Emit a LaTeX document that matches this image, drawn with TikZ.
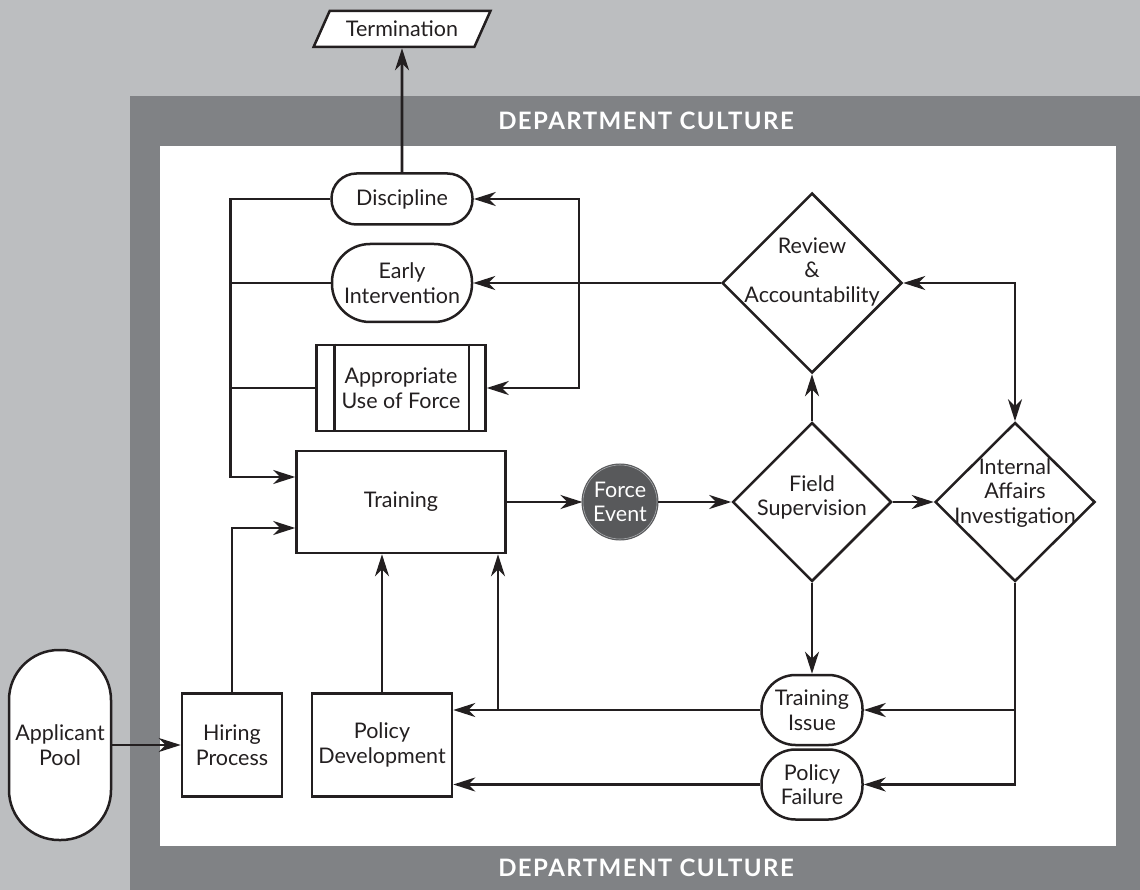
\documentclass[tikz,border=0pt]{standalone}
\usepackage{fontspec}
\setmainfont{Lato}
\usepackage{xcolor}
\usetikzlibrary{arrows.meta}
\usetikzlibrary{shapes,positioning,calc}
\definecolor{clbg}{HTML}{BCBEC0}
\definecolor{clframe}{HTML}{808285}
\definecolor{clforce}{HTML}{58595B}
\definecolor{clring}{HTML}{A7A9AC}
\definecolor{clink}{HTML}{231F20}
\tikzstyle{box} = [rectangle, draw=clink, line width=2.5pt, fill=white, align=center, inner sep=0pt]
\tikzstyle{stadium} = [box, rounded corners=34pt]
\tikzstyle{decision} = [diamond, draw=clink, line width=2.5pt, fill=white, align=center, inner sep=-20pt, aspect=1]
\tikzstyle{event} = [circle, fill=clforce, draw=clforce, double=clring, double distance=0.6pt, line width=1.2pt, text=white, align=center, minimum size=74pt, inner sep=0pt]
\tikzstyle{iobox} = [trapezium, trapezium left angle=52, trapezium right angle=128, trapezium stretches=true, draw=clink, line width=2.5pt, fill=white, inner sep=0pt]
\tikzstyle{culture} = [text=white, font=\bfseries\fontsize{24}{28}\selectfont\addfontfeature{LetterSpace=6}]
\tikzstyle{line} = [draw=clink, ->, line width=2.6pt]
\tikzstyle{twoway} = [line, <->]

\begin{document}
\begin{tikzpicture}[x=1pt, y=-1pt, font=\fontsize{21.5}{24.5}\selectfont, text=clink,
    >={Stealth[length=22pt, width=14pt, inset=7pt]}]
    \useasboundingbox (0,0) rectangle (1140,890);
    \fill [clbg] (0,0) rectangle (1140,890);
    \fill [clframe] (130,96) rectangle (1140,890);
    \fill [white] (160,146) rectangle (1116,846);

    \node [culture] (culturetop) at (646,121) {DEPARTMENT CULTURE};
    \node [culture] (culturebot) at (646,868) {DEPARTMENT CULTURE};

    \node [iobox, minimum width=177pt, minimum height=36pt] (term) at (402,29) {Termination};
    \node [stadium, minimum width=141pt, minimum height=51pt, rounded corners=25pt] (disc) at (402,199) {Discipline};
    \node [stadium, minimum width=140pt, minimum height=78pt, rounded corners=38pt] (early) at (402,283) {Early\\Intervention};
    \node [box, minimum width=169pt, minimum height=86pt] (auf) at (401,388) {Appropriate\\Use of Force};
    \node [box, minimum width=209pt, minimum height=102pt] (train) at (401,502) {Training};
    \node [event] (force) at (620,502) {Force\\Event};

    \node [decision, minimum width=159pt, minimum height=159pt, text depth=13pt] (field) at (812,502) {Field\\Supervision};
    \node [decision, minimum width=180pt, minimum height=180pt, text depth=26pt] (review) at (812,283) {Review\\\&\\Accountability};
    \node [decision, minimum width=160pt, minimum height=159pt, text depth=22pt] (ia) at (1015,502) {Internal\\Affairs\\Investigation};

    \node [stadium, minimum width=101pt, minimum height=70pt] (tissue) at (812,710) {Training\\Issue};
    \node [stadium, minimum width=101pt, minimum height=70pt, below=2pt of tissue] (pfail) {Policy\\Failure};

    \node [box, minimum width=140pt, minimum height=103pt] (poldev) at (382,745) {Policy\\Development};
    \node [box, minimum width=100pt, minimum height=103pt] (hire) at (232,745) {Hiring\\Process};
    \node [stadium, minimum width=102pt, minimum height=190pt, rounded corners=50pt] (pool) at (60,745) {Applicant\\Pool};

    % side bars of the process box
    \draw [draw=clink, line width=2.5pt] ([xshift=19pt]auf.north west) -- ([xshift=19pt]auf.south west);
    \draw [draw=clink, line width=2.5pt] ([xshift=-18pt]auf.north east) -- ([xshift=-18pt]auf.south east);

    \coordinate (lbus) at ([xshift=-65pt, yshift=25pt]train.west);
    \coordinate (rbus) at (579,283);
    \coordinate (tbranch) at (498,710);

    \path [line] (disc.north) -- (term.south);
    \path [line] (disc.west) -| (lbus) -- ([yshift=25pt]train.west);
    \draw [draw=clink, line width=2.6pt] (early.west) -- (early.west -| lbus);
    \draw [draw=clink, line width=2.6pt] (auf.west) -- (auf.west -| lbus);

    \path [line] (review.west) -- (early.east);
    \path [line] (rbus) |- (disc.east);
    \path [line] (rbus) |- (auf.east);

    \path [line] (train.east) -- (force);
    \path [line] (force) -- (field.west);
    \path [line] (field.east) -- (ia.west);
    \path [line] (field.north) -- (review.south);
    \path [twoway] (review.east) -| (ia.north);

    \path [line] (field.south) -- (tissue.north);
    \path [line] (ia.south) |- (pfail.east);
    \path [line] (ia.south |- tissue.east) -- (tissue.east);

    \path [line] (tissue.west) -- (tissue.west -| poldev.east);
    \path [line] (pfail.west) -- (pfail.west -| poldev.east);
    \path [line] (tbranch) -- (tbranch |- train.south);
    \path [line] (poldev.north) -- (poldev.north |- train.south);
    \path [line] (hire.north) |- ([yshift=-26pt]train.west);
    \path [line] (pool.east) -- (hire.west);
\end{tikzpicture}
\end{document}
